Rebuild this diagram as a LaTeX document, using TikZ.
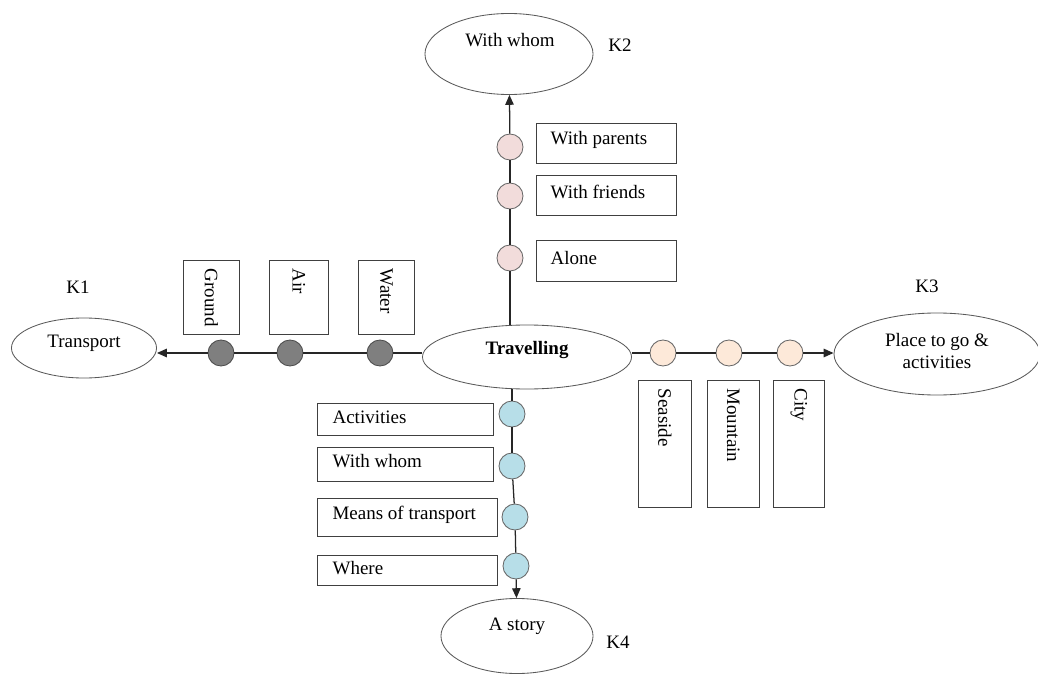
\documentclass[tikz,border=0pt]{standalone}
\usepackage{fontspec}
\setmainfont{Liberation Serif}[Scale=1.35]
\usepackage{xcolor}
\usetikzlibrary{shapes.geometric, arrows.meta, positioning, calc}

\definecolor{pinkdot}{HTML}{F2DCDB}
\definecolor{greydot}{HTML}{7F7F7F}
\definecolor{peachdot}{HTML}{FDE9D9}
\definecolor{bluedot}{HTML}{B7DEE8}

\begin{document}
\begin{tikzpicture}[x=0.025cm, y=-0.025cm,
    topic/.style={ellipse, draw=black!65, line width=0.6pt, inner sep=0pt},
    dot/.style={circle, draw=black!60, line width=0.6pt, minimum size=0.65cm, inner sep=0pt},
    itembox/.style={rectangle, draw=black!75, line width=0.6pt, inner sep=0pt, anchor=north west},
    link/.style={draw=black!85, line width=0.9pt},
    tip/.style={-{Triangle[length=7pt,width=6pt]}}]

    % Fix the page to the reference size
    \useasboundingbox (0,0) rectangle (1038,676);

    % Centre - Travelling
    \node[topic, minimum width=5.225cm, minimum height=1.6cm] (trav) at (527,357) {};
    \node[font=\bfseries] (travtxt) at (527,350) {Travelling};

    % K2 - With whom (top)
    \node[topic, minimum width=4.2cm, minimum height=2.025cm] (whom) at (509,54) {};
    \node (whomtxt) at (510,40) {With whom};
    \node (k2) at (620,45) {K2};

    \node[dot, fill=pinkdot] (p1) at (510,147) {};
    \node[dot, fill=pinkdot] (p2) at (510,196) {};
    \node[dot, fill=pinkdot] (p3) at (510,258) {};

    \node[itembox, minimum width=3.5cm, minimum height=1cm] (bpar) at (536,123) {};
    \node[anchor=west] at ($(bpar.west)+(8,-3)$) {With parents};
    \node[itembox, minimum width=3.5cm, minimum height=1cm] (bfri) at (536,175) {};
    \node[anchor=west] at ($(bfri.west)+(8,-3)$) {With friends};
    \node[itembox, minimum width=3.5cm, minimum height=1.025cm] (balo) at (536,240) {};
    \node[anchor=west] at ($(balo.west)+(8,-3)$) {Alone};

    \draw[link] (p3 |- trav.north) -- (p3);
    \draw[link] (p3) -- (p2);
    \draw[link] (p2) -- (p1);
    \draw[link, tip] (p1) -- (whom);

    % K1 - Transport (left)
    \node[topic, minimum width=3.625cm, minimum height=1.5cm] (tran) at (84,348) {};
    \node (trantxt) at (84,343) {Transport};
    \node (k1) at (78,287) {K1};

    \node[dot, fill=greydot, draw=black!70] (g1) at (221,353) {};
    \node[dot, fill=greydot, draw=black!70] (g2) at (290,353) {};
    \node[dot, fill=greydot, draw=black!70] (g3) at (380,353) {};

    \node[itembox, minimum width=1.4cm, minimum height=1.85cm] (bgro) at (183,260) {};
    \node[rotate=-90, anchor=west] at ($(bgro.north)+(0,2)$) {Ground};
    \node[itembox, minimum width=1.475cm, minimum height=1.85cm] (bair) at (269,260) {};
    \node[rotate=-90, anchor=west] at ($(bair.north)+(0,2)$) {Air};
    \node[itembox, minimum width=1.4cm, minimum height=1.85cm] (bwat) at (358,260) {};
    \node[rotate=-90, anchor=west] at ($(bwat.north)+(0,2)$) {Water};

    \draw[link] (g3 -| trav.west) -- (g3);
    \draw[link] (g3) -- (g2);
    \draw[link] (g2) -- (g1);
    \draw[link, tip] (g1) -- (g1 -| tran.east);

    % K3 - Place to go (right)
    \node[topic, minimum width=5.15cm, minimum height=2.05cm] (place) at (937,354) {};
    \node[align=center] (placetxt) at (937,351) {Place to go \&\\[3.5pt]activities};
    \node (k3) at (927,286) {K3};

    \node[dot, fill=peachdot] (c1) at (663,353) {};
    \node[dot, fill=peachdot] (c2) at (729,353) {};
    \node[dot, fill=peachdot] (c3) at (790,353) {};

    \node[itembox, minimum width=1.325cm, minimum height=3.175cm] (bsea) at (638,380) {};
    \node[rotate=-90, anchor=west] at ($(bsea.north)+(0,2)$) {Seaside};
    \node[itembox, minimum width=1.3cm, minimum height=3.175cm] (bmou) at (707,380) {};
    \node[rotate=-90, anchor=west] at ($(bmou.north)+(0,2)$) {Mountain};
    \node[itembox, minimum width=1.275cm, minimum height=3.175cm] (bcit) at (773,380) {};
    \node[rotate=-90, anchor=west] at ($(bcit.north)+(0,2)$) {City};

    \draw[link] (c1 -| trav.east) -- (c1);
    \draw[link] (c1) -- (c2);
    \draw[link] (c2) -- (c3);
    \draw[link, tip] (c3) -- (c3 -| place.west);

    % K4 - A story (bottom)
    \node[topic, minimum width=3.8cm, minimum height=1.875cm] (story) at (517,636) {};
    \node (storytxt) at (517,626) {A story};
    \node (k4) at (618,642) {K4};

    \node[dot, fill=bluedot] (b1) at (512,414) {};
    \node[dot, fill=bluedot] (b2) at (512,466) {};
    \node[dot, fill=bluedot] (b3) at (515,517) {};
    \node[dot, fill=bluedot] (b4) at (516,566) {};

    \node[itembox, minimum width=4.4cm, minimum height=0.8cm] (bact) at (317,403) {};
    \node[anchor=west] at ($(bact.west)+(9,-2)$) {Activities};
    \node[itembox, minimum width=4.4cm, minimum height=0.85cm] (bwho) at (317,447) {};
    \node[anchor=west] at ($(bwho.west)+(9,-3)$) {With whom};
    \node[itembox, minimum width=4.5cm, minimum height=0.95cm] (bmea) at (317,498) {};
    \node[anchor=west] at ($(bmea.west)+(9,-3)$) {Means of transport};
    \node[itembox, minimum width=4.5cm, minimum height=0.75cm] (bwhe) at (317,555) {};
    \node[anchor=west] at ($(bwhe.west)+(9,-2)$) {Where};

    \draw[link] (b1 |- trav.south) -- (b1);
    \draw[link] (b1) -- (b2);
    \draw[link] (b2) -- (b3);
    \draw[link] (b3) -- (b4);
    \draw[link, tip] (b4) -- (story);
\end{tikzpicture}
\end{document}
